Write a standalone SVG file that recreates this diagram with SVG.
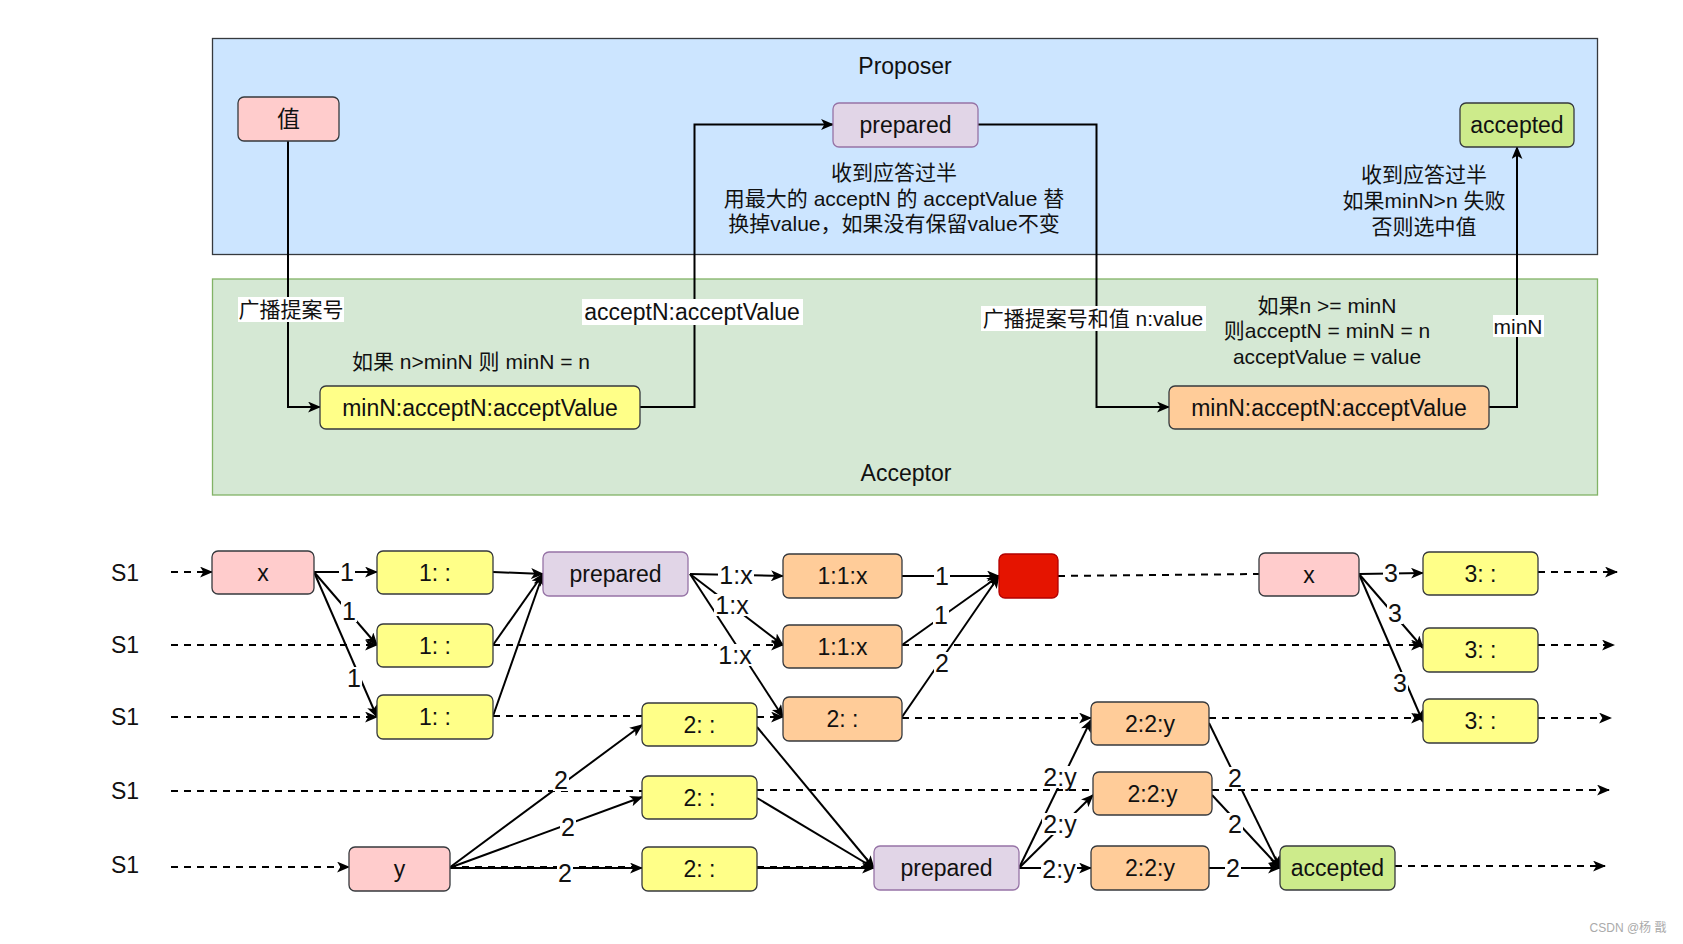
<svg xmlns="http://www.w3.org/2000/svg" width="1683" height="944" viewBox="0 0 1683 944">
<defs>
<style>
text{font-family:"Liberation Sans","Noto Sans CJK SC",sans-serif;fill:#111;text-anchor:middle;dominant-baseline:central}
.big{font-size:23px}
.lab{font-size:25px}
.sm{font-size:21px}
.wm{font-size:12px;fill:#aaa}
.n{stroke:#36393d;stroke-width:1.3}
.pink{fill:#ffcccc}
.yel{fill:#ffff88}
.org{fill:#ffcc99}
.grn{fill:#cdeb8b}
.pur{fill:#e1d5e7;stroke:#9673a6;stroke-width:1.3}
.red{fill:#e51400;stroke:#b20000;stroke-width:1.3}
.e{fill:none;stroke:#000;stroke-width:2}
.d{fill:none;stroke:#000;stroke-width:2;stroke-dasharray:7 6}
.a{marker-end:url(#arr)}
.lb{fill:#fff}
</style>
<marker id="arr" viewBox="0 0 12 10" refX="11" refY="5" markerWidth="13" markerHeight="11" markerUnits="userSpaceOnUse" orient="auto">
<path d="M0,0 L12,5 L0,10 L3,5 Z" fill="#000"/>
</marker>
</defs>

<g id="proposer-box">
<rect x="212.5" y="38.5" width="1385" height="216" fill="#cce5ff" stroke="#36393d" stroke-width="1.3"/>
<text class="big" x="905" y="66">Proposer</text>
</g>
<g id="acceptor-box">
<rect x="212.5" y="279" width="1385" height="216" fill="#d5e8d4" stroke="#82b366" stroke-width="1.3"/>
<text class="big" x="906" y="473">Acceptor</text>
</g>

<g id="top-notes">
<text class="sm" x="894" y="172">收到应答过半</text>
<text class="sm" x="894" y="198">用最大的 acceptN 的 acceptValue 替</text>
<text class="sm" x="894" y="223">换掉value，如果没有保留value不变</text>
<text class="sm" x="1424" y="174">收到应答过半</text>
<text class="sm" x="1424" y="200">如果minN&gt;n 失败</text>
<text class="sm" x="1424" y="226">否则选中值</text>
<text class="sm" x="471" y="361">如果 n&gt;minN 则 minN = n</text>
<text class="sm" x="1327" y="305">如果n &gt;= minN</text>
<text class="sm" x="1327" y="330">则acceptN = minN = n</text>
<text class="sm" x="1327" y="356">acceptValue = value</text>
</g>

<g id="top-connectors">
<path class="e a" d="M288,141 V407 H320"/>
<path class="e a" d="M640,407 H694.5 V124.5 H833"/>
<path class="e a" d="M978,124.5 H1096.5 V407 H1169"/>
<path class="e a" d="M1489,407 H1517 V147"/>
<rect class="lb" x="238" y="297" width="106" height="25"/>
<text class="sm" x="291" y="309">广播提案号</text>
<rect class="lb" x="582" y="299" width="221" height="26"/>
<text class="big" x="692" y="312">acceptN:acceptValue</text>
<rect class="lb" x="981" y="306" width="225" height="25"/>
<text class="sm" x="1093" y="318">广播提案号和值 n:value</text>
<rect class="lb" x="1493" y="315" width="51" height="22"/>
<text class="sm" x="1518" y="326">minN</text>
</g>

<g id="node-zhi"><rect class="n pink" x="238" y="97" width="101" height="44" rx="6"/><text class="big" x="288.5" y="119">值</text></g>
<g id="node-prepared-top"><rect class="pur" x="833" y="103" width="145" height="44" rx="6"/><text class="big" x="905.5" y="125">prepared</text></g>
<g id="node-accepted-top"><rect class="n grn" x="1460" y="103" width="114" height="44" rx="6"/><text class="big" x="1517" y="125">accepted</text></g>
<g id="node-acceptor-yellow"><rect class="n yel" x="320" y="386" width="320" height="43" rx="6"/><text class="big" x="480" y="407.5">minN:acceptN:acceptValue</text></g>
<g id="node-acceptor-orange"><rect class="n org" x="1169" y="386" width="320" height="43" rx="6"/><text class="big" x="1329" y="407.5">minN:acceptN:acceptValue</text></g>

<g id="row-labels">
<text class="big" x="125" y="573">S1</text>
<text class="big" x="125" y="645">S1</text>
<text class="big" x="125" y="717">S1</text>
<text class="big" x="125" y="791">S1</text>
<text class="big" x="125" y="865">S1</text>
</g>

<g id="connectors">
<path class="d a" d="M171,572 H212"/>
<path class="d" d="M1058,576 L1259,574"/>
<path class="d a" d="M1538,572 H1617"/>
<path class="d a" d="M171,645 H377"/>
<path class="d a" d="M493,645 H783"/>
<path class="d a" d="M902,645 H1423"/>
<path class="d a" d="M1538,645 H1614"/>
<path class="d a" d="M171,717 H377"/>
<path class="d" d="M493,716 H642"/>
<path class="d a" d="M757,717 H783"/>
<path class="d a" d="M902,718 H1091"/>
<path class="d a" d="M1209,718 H1423"/>
<path class="d a" d="M1538,718 H1611"/>
<path class="d" d="M171,791 H642"/>
<path class="d" d="M757,790 H1093"/>
<path class="d a" d="M1212,790 H1609"/>
<path class="d a" d="M171,867 H349"/>
<path class="d" d="M449,867 H642"/>
<path class="d" d="M757,867 H874"/>
<path class="d a" d="M1395,866 H1605"/>
<path class="e a" d="M314,572 L377,572"/>
<path class="e a" d="M314,572 L377,645"/>
<path class="e a" d="M314,572 L377,717"/>
<path class="e a" d="M493,572 L543,574"/>
<path class="e a" d="M493,645 L543,574"/>
<path class="e a" d="M493,716 L543,574"/>
<path class="e a" d="M690,574 L783,576"/>
<path class="e a" d="M690,574 L783,645"/>
<path class="e a" d="M690,574 L783,717"/>
<path class="e a" d="M902,576 L999,576"/>
<path class="e a" d="M902,645 L999,576"/>
<path class="e a" d="M902,717 L999,576"/>
<path class="e a" d="M449,868 L642,725"/>
<path class="e a" d="M449,868 L642,797"/>
<path class="e a" d="M449,868 L642,868"/>
<path class="e a" d="M757,727 L874,868"/>
<path class="e a" d="M757,798 L874,868"/>
<path class="e a" d="M757,868 L874,868"/>
<path class="e a" d="M1019,868 L1091,720"/>
<path class="e a" d="M1019,868 L1093,795"/>
<path class="e a" d="M1019,868 L1091,868"/>
<path class="e a" d="M1209,723 L1280,868"/>
<path class="e a" d="M1212,795 L1280,868"/>
<path class="e a" d="M1209,868 L1280,868"/>
<path class="e a" d="M1359,574 L1423,573"/>
<path class="e a" d="M1359,574 L1423,648"/>
<path class="e a" d="M1359,574 L1423,722"/>
<rect class="lb" x="339" y="561" width="16" height="22"/><text class="lab" x="347" y="572">1</text>
<rect class="lb" x="341" y="600" width="16" height="22"/><text class="lab" x="349" y="611">1</text>
<rect class="lb" x="346" y="667" width="16" height="22"/><text class="lab" x="354" y="678">1</text>
<rect class="lb" x="718" y="564" width="36" height="22"/><text class="lab" x="736" y="575">1:x</text>
<rect class="lb" x="714" y="594" width="36" height="22"/><text class="lab" x="732" y="605">1:x</text>
<rect class="lb" x="717" y="644" width="36" height="22"/><text class="lab" x="735" y="655">1:x</text>
<rect class="lb" x="934" y="565" width="16" height="22"/><text class="lab" x="942" y="576">1</text>
<rect class="lb" x="933" y="604" width="16" height="22"/><text class="lab" x="941" y="615">1</text>
<rect class="lb" x="934" y="652" width="16" height="22"/><text class="lab" x="942" y="663">2</text>
<rect class="lb" x="553" y="769" width="16" height="22"/><text class="lab" x="561" y="780">2</text>
<rect class="lb" x="560" y="816" width="16" height="22"/><text class="lab" x="568" y="827">2</text>
<rect class="lb" x="557" y="862" width="16" height="22"/><text class="lab" x="565" y="873">2</text>
<rect class="lb" x="1042" y="766" width="36" height="22"/><text class="lab" x="1060" y="777">2:y</text>
<rect class="lb" x="1042" y="813" width="36" height="22"/><text class="lab" x="1060" y="824">2:y</text>
<rect class="lb" x="1041" y="858" width="36" height="22"/><text class="lab" x="1059" y="869">2:y</text>
<rect class="lb" x="1227" y="767" width="16" height="22"/><text class="lab" x="1235" y="778">2</text>
<rect class="lb" x="1227" y="813" width="16" height="22"/><text class="lab" x="1235" y="824">2</text>
<rect class="lb" x="1225" y="857" width="16" height="22"/><text class="lab" x="1233" y="868">2</text>
<rect class="lb" x="1383" y="562" width="16" height="22"/><text class="lab" x="1391" y="573">3</text>
<rect class="lb" x="1387" y="602" width="16" height="22"/><text class="lab" x="1395" y="613">3</text>
<rect class="lb" x="1392" y="672" width="16" height="22"/><text class="lab" x="1400" y="683">3</text>
</g>

<g id="node-x1"><rect class="n pink" x="212" y="551" width="102" height="43" rx="6"/><text class="big" x="263" y="572.5">x</text></g>
<g id="node-1a"><rect class="n yel" x="377" y="551" width="116" height="43" rx="6"/><text class="big" x="435" y="572.5">1: :</text></g>
<g id="node-1b"><rect class="n yel" x="377" y="624" width="116" height="43" rx="6"/><text class="big" x="435" y="645.5">1: :</text></g>
<g id="node-1c"><rect class="n yel" x="377" y="695" width="116" height="44" rx="6"/><text class="big" x="435" y="717">1: :</text></g>
<g id="node-prepared-1"><rect class="pur" x="543" y="552" width="145" height="44" rx="6"/><text class="big" x="615.5" y="574">prepared</text></g>
<g id="node-11x-a"><rect class="n org" x="783" y="554" width="119" height="44" rx="6"/><text class="big" x="842.5" y="576">1:1:x</text></g>
<g id="node-11x-b"><rect class="n org" x="783" y="625" width="119" height="43" rx="6"/><text class="big" x="842.5" y="646.5">1:1:x</text></g>
<g id="node-2-orange"><rect class="n org" x="783" y="697" width="119" height="44" rx="6"/><text class="big" x="842.5" y="719">2: :</text></g>
<g id="node-red"><rect class="red" x="999" y="554" width="59" height="44" rx="6"/></g>
<g id="node-y"><rect class="n pink" x="349" y="847" width="101" height="44" rx="6"/><text class="big" x="399.5" y="869">y</text></g>
<g id="node-2a"><rect class="n yel" x="642" y="703" width="115" height="43" rx="6"/><text class="big" x="699.5" y="724.5">2: :</text></g>
<g id="node-2b"><rect class="n yel" x="642" y="776" width="115" height="43" rx="6"/><text class="big" x="699.5" y="797.5">2: :</text></g>
<g id="node-2c"><rect class="n yel" x="642" y="847" width="115" height="44" rx="6"/><text class="big" x="699.5" y="869">2: :</text></g>
<g id="node-prepared-2"><rect class="pur" x="874" y="846" width="145" height="44" rx="6"/><text class="big" x="946.5" y="868">prepared</text></g>
<g id="node-22y-a"><rect class="n org" x="1091" y="702" width="118" height="43" rx="6"/><text class="big" x="1150" y="723.5">2:2:y</text></g>
<g id="node-22y-b"><rect class="n org" x="1093" y="772" width="119" height="43" rx="6"/><text class="big" x="1152.5" y="793.5">2:2:y</text></g>
<g id="node-22y-c"><rect class="n org" x="1091" y="846" width="118" height="44" rx="6"/><text class="big" x="1150" y="868">2:2:y</text></g>
<g id="node-accepted-2"><rect class="n grn" x="1280" y="846" width="115" height="44" rx="6"/><text class="big" x="1337.5" y="868">accepted</text></g>
<g id="node-x2"><rect class="n pink" x="1259" y="553" width="100" height="43" rx="6"/><text class="big" x="1309" y="574.5">x</text></g>
<g id="node-3a"><rect class="n yel" x="1423" y="552" width="115" height="43" rx="6"/><text class="big" x="1480.5" y="573.5">3: :</text></g>
<g id="node-3b"><rect class="n yel" x="1423" y="628" width="115" height="44" rx="6"/><text class="big" x="1480.5" y="650">3: :</text></g>
<g id="node-3c"><rect class="n yel" x="1423" y="699" width="115" height="44" rx="6"/><text class="big" x="1480.5" y="721">3: :</text></g>

<text class="wm" x="1628" y="928">CSDN @杨 戬</text>
</svg>
